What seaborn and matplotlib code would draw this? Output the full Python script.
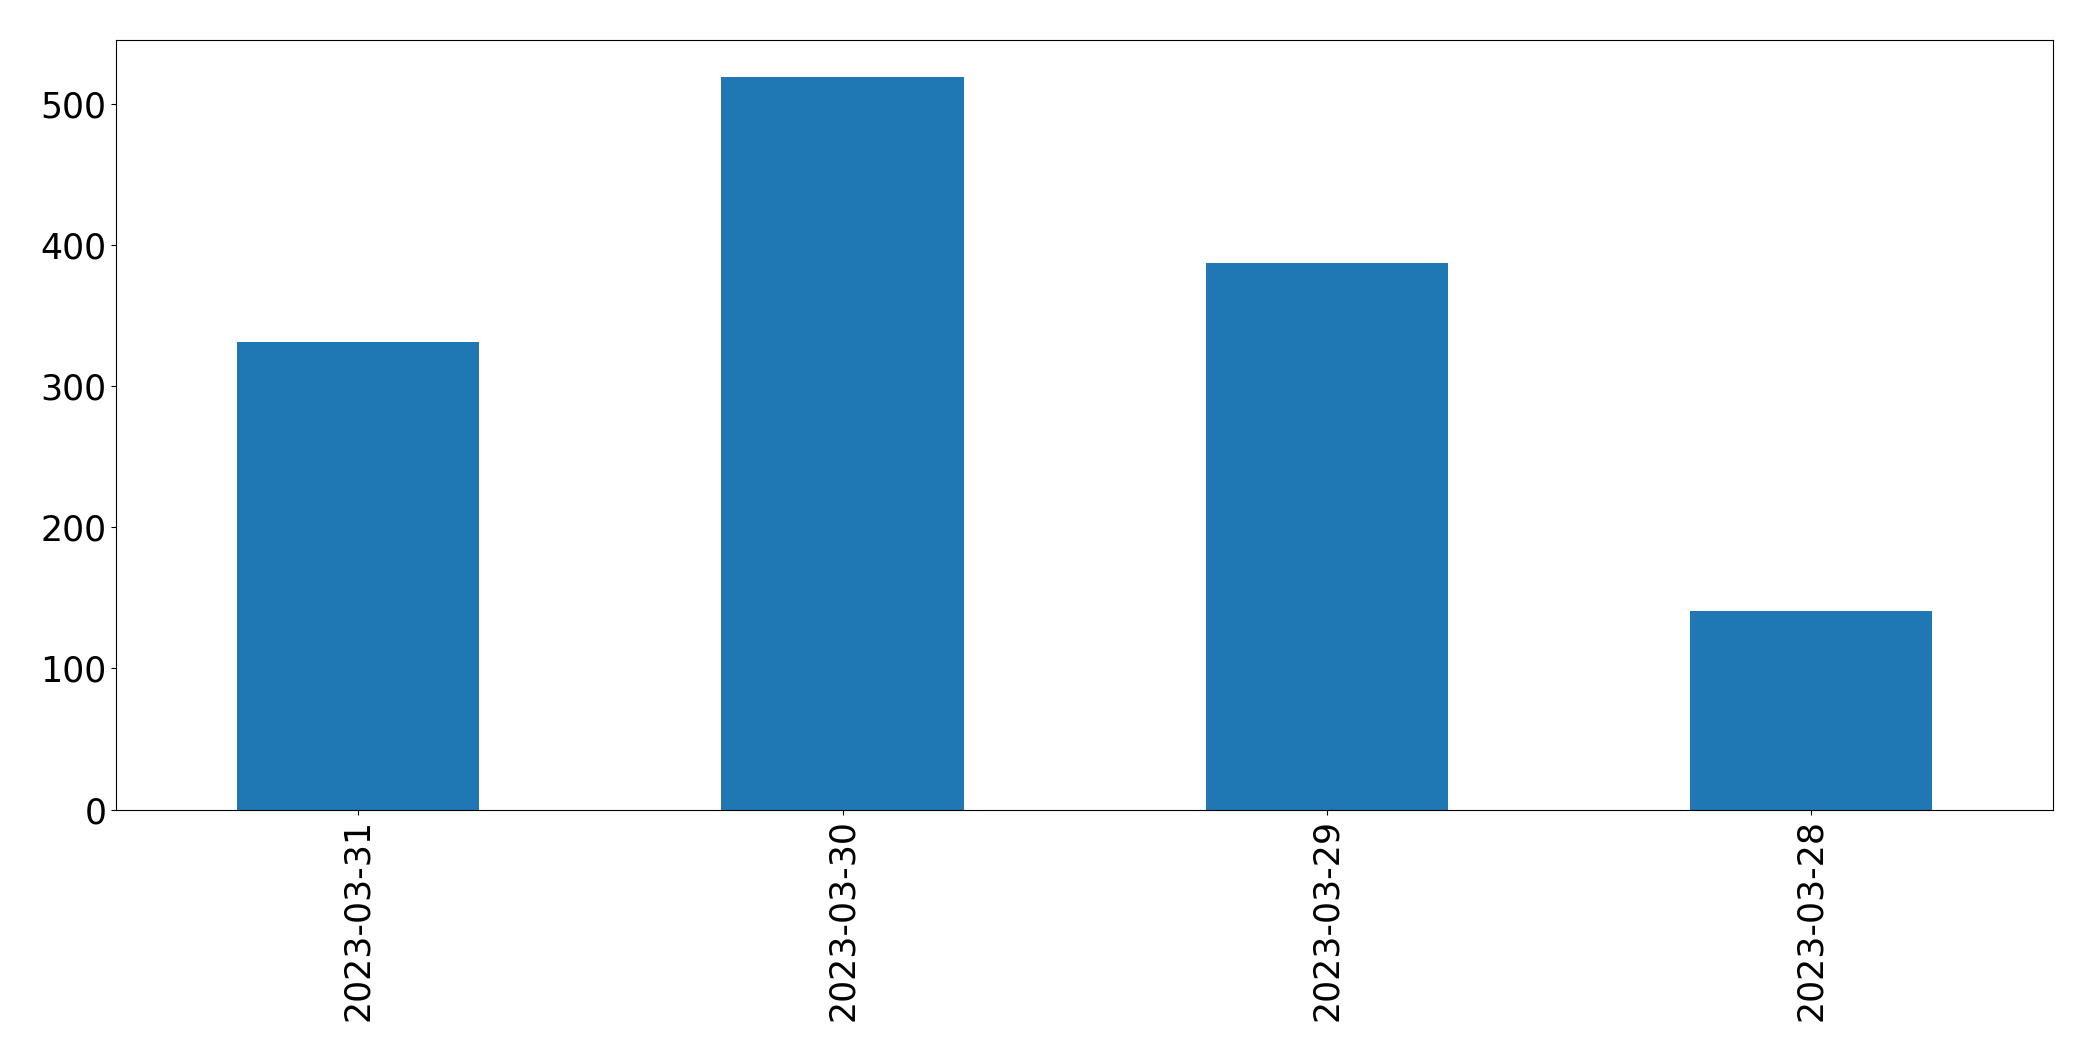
import matplotlib
matplotlib.use('Agg')
import matplotlib.pyplot as plt
import pandas as pd
import seaborn as sns

# daily totals, newest first
dates = ['2023-03-31', '2023-03-30', '2023-03-29', '2023-03-28']
counts = [331, 519, 387, 141]

df = pd.DataFrame({'date': dates, 'count': counts})

fig, ax = plt.subplots(figsize=(20.93, 10.61), dpi=100)
sns.barplot(data=df, x='date', y='count', order=dates, color='#1f77b4',
            saturation=1, width=0.5, ax=ax)
ax.set_xlim(-0.5, len(dates) - 0.5)
ax.set_xlabel('')
ax.set_ylabel('')
ax.tick_params(axis='both', labelsize=25)
ax.tick_params(axis='x', labelrotation=90)
plt.subplots_adjust(left=0.0555, right=0.981, top=0.962, bottom=0.237)
plt.savefig('out.png', dpi=100)
